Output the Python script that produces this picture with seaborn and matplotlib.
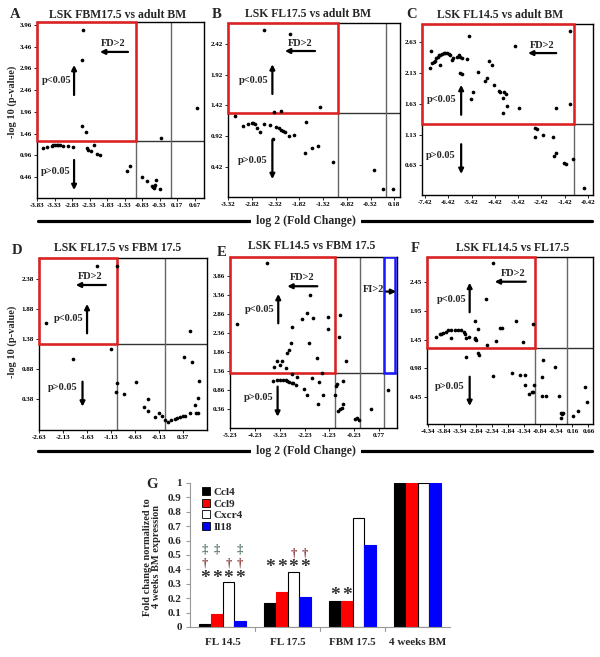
import numpy as np
import pandas as pd
import matplotlib
matplotlib.use('Agg')
import matplotlib.pyplot as plt
import seaborn as sns
from matplotlib.patches import Rectangle
from matplotlib.lines import Line2D

sns.set_theme(style='white')
plt.rcParams['font.family'] = ['Liberation Serif', 'DejaVu Serif']

# ---------------- data: volcano panels ----------------
A_x = [-2.51, -2.55, -2.55, -2.44, 0.75, -0.29, -3.65, -3.55, -3.41, -3.36, -3.32, -3.27, -3.22, -3.17,
       -3.08, -2.94, -2.79, -2.41, -2.36, -2.28, -2.21, -2.12, -2.02, -1.27, -1.17, -0.84, -0.70, -0.55,
       -0.52, -0.49, -0.46, -0.43, -0.49, -0.32]
A_y = [3.85, 3.16, 1.64, 1.51, 2.05, 1.36, 1.14, 1.16, 1.18, 1.19, 1.19, 1.19, 1.19, 1.19,
       1.18, 1.18, 1.16, 1.13, 1.09, 1.07, 1.19, 1.00, 0.97, 0.60, 0.72, 0.47, 0.38, 0.26,
       0.23, 0.24, 0.28, 0.39, 0.22, 0.18]

B_x = [-2.56, -2.02, -1.39, -2.36, -2.20, -3.18, -3.01, -2.89, -2.82, -2.79, -2.75, -2.70, -2.65, -2.57,
       -2.44, -2.37, -2.30, -2.25, -2.20, -2.16, -2.11, -2.04, -1.93, -1.67, -1.69, -1.56, -1.42, -1.12,
       -0.24, -0.06, 0.15]
B_y = [2.64, 2.58, 1.40, 1.32, 1.33, 1.24, 1.09, 1.11, 1.13, 1.13, 1.11, 1.05, 0.99, 1.12,
       1.10, 0.87, 1.07, 1.05, 1.02, 1.00, 0.98, 0.93, 0.94, 1.15, 0.64, 0.73, 0.76, 0.50,
       0.37, 0.06, 0.06]

C_x = [-7.22, -7.16, -7.10, -7.05, -7.01, -6.94, -6.88, -6.82, -6.77, -6.69, -6.62, -6.55, -6.48, -6.41,
       -6.34, -6.77, -6.27, -6.20, -6.05, -5.98, -5.91, -5.84, -5.62, -5.51, -5.91, -5.84, -5.44, -5.34,
       -5.13, -4.84, -4.74, -4.65, -4.55, -4.45, -4.22, -4.20, -4.08, -4.05, -4.01, -3.95, -3.88, -3.55,
       -3.37, -1.80, -1.17, -1.20, -2.70, -2.60, -2.70, -2.37, -1.94, -1.88, -1.81, -1.44, -1.38, -1.08,
       -0.59]
C_y = [2.22, 2.49, 2.30, 2.32, 2.33, 2.38, 2.40, 2.42, 2.43, 2.45, 2.46, 2.46, 2.46, 2.45,
       2.43, 2.27, 2.34, 2.38, 2.40, 2.43, 2.39, 2.38, 2.36, 2.73, 2.13, 2.12, 1.71, 1.83,
       2.15, 2.01, 2.05, 2.33, 2.27, 1.94, 1.84, 1.82, 1.49, 1.73, 1.83, 1.80, 1.60, 2.58,
       1.56, 1.56, 2.82, 1.63, 1.24, 1.22, 1.10, 1.13, 1.09, 0.79, 0.83, 0.67, 0.65, 0.73,
       0.26]

D_x = [-1.41, -1.00, -2.48, -1.92, -1.13, -1.00, -1.03, -0.86, -0.61, -0.44, -0.35, -0.36, -0.21, -0.12,
       -0.05, 0.01, 0.07, 0.12, 0.21, 0.26, 0.31, 0.37, 0.42, 0.52, 0.63, 0.65, 0.70, 0.71, 0.40, 0.56,
       0.52, 0.70]
D_y = [2.60, 2.59, 1.65, 1.04, 1.21, 0.65, 0.50, 0.46, 0.66, 0.24, 0.37, 0.17, 0.08, 0.15,
       0.10, 0.02, 0.00, 0.03, 0.04, 0.06, 0.07, 0.09, 0.10, 0.15, 0.28, 0.15, 0.15, 0.68, 1.08, 1.00,
       1.52, 0.39]

E_x = [-3.77, -4.98, -2.01, -2.15, -2.35, -1.88, -1.27, -1.27, -0.80, -0.83, -0.57, -2.75, -2.04, -2.79,
       -2.85, -2.93, -1.72, -3.47, -3.34, -3.23, -3.13, -2.98, -1.54,
       -3.50, -3.36, -3.23, -3.09, -2.98, -2.93, -2.85, -2.75, -2.69, -2.55, -2.75, -2.58, -2.26, -2.15,
       -1.94, -1.64, -1.68, -1.47, -1.00, -0.96, -0.93, -0.66, -0.87, -0.80, -0.73, -0.66, -0.18, -0.12,
       -0.02, 0.46, 1.16]
E_y = [4.19, 2.58, 3.35, 2.87, 2.72, 2.76, 2.77, 2.46, 2.83, 2.26, 1.63, 2.51, 2.10, 2.10,
       1.91, 1.84, 1.69, 1.47, 1.62, 1.52, 1.62, 1.43, 1.31,
       1.10, 1.12, 1.12, 1.12, 1.12, 1.10, 1.08, 1.05, 1.04, 1.21, 1.28, 0.99, 0.88, 0.73,
       1.17, 1.06, 0.48, 0.73, 0.73, 0.97, 1.01, 1.10, 0.31, 0.35, 0.38, 0.48, 0.09, 0.13,
       0.07, 0.35, 0.86]

F_x = [-2.30, -2.54, -2.86, -2.78, -2.08, -2.03, -1.60, -1.06, -1.39, -2.23, -2.50, -4.09, -3.96, -3.91,
       -3.86, -3.76, -3.71, -3.60, -3.50, -3.40, -3.29, -3.21, -3.17, -3.62, -3.14, -3.04, -2.86, -2.83,
       -2.88,
       -3.16, -2.76, -2.73, -2.30, -1.72, -1.46, -1.31, -1.31, -1.19, -1.10, -1.05, -1.03, -0.75, -0.79,
       -0.79, -0.65, -0.38, -0.26, -0.21, -0.18, -0.14, -0.15, 0.17, 0.34, 0.54, 0.60]
F_y = [2.78, 2.16, 1.77, 1.64, 1.66, 1.65, 1.78, 1.73, 1.41, 1.42, 1.35, 1.50, 1.54, 1.55,
       1.57, 1.59, 1.61, 1.62, 1.62, 1.62, 1.61, 1.58, 1.55, 1.48, 1.47, 1.49, 1.48, 1.45,
       1.46,
       1.14, 1.21, 1.19, 0.81, 0.86, 0.83, 0.84, 0.66, 0.51, 0.54, 0.54, 0.66, 1.10, 0.80,
       0.47, 0.47, 0.97, 0.47, 0.09, 0.18, 0.18, 0.15, 0.12, 0.20, 0.63, 0.36]

A_xticks = [-3.83, -3.33, -2.83, -2.33, -1.83, -1.33, -0.83, -0.33, 0.17, 0.67]
A_yticks = [0.46, 0.96, 1.46, 1.96, 2.46, 2.96, 3.46, 3.96]
B_xticks = [-3.32, -2.82, -2.32, -1.82, -1.32, -0.82, -0.32, 0.18]
B_yticks = [0.42, 0.92, 1.42, 1.92, 2.42]
C_xticks = [-7.42, -6.42, -5.42, -4.42, -3.42, -2.42, -1.42, -0.42]
C_yticks = [0.63, 1.13, 1.63, 2.13, 2.63]
D_xticks = [-2.63, -2.13, -1.63, -1.13, -0.63, -0.13, 0.37]
D_yticks = [0.38, 0.88, 1.38, 1.88, 2.38]
E_xticks = [-5.23, -4.23, -3.23, -2.23, -1.23, -0.23, 0.77]
E_yticks = [0.36, 0.86, 1.36, 1.86, 2.36, 2.86, 3.36, 3.86]
F_xticks = [-4.34, -3.84, -3.34, -2.84, -2.34, -1.84, -1.34, -0.84, -0.34, 0.16, 0.66]
F_yticks = [0.45, 0.95, 1.45, 1.95, 2.45]
F_yticklabels = ['0.45', '0.98', '1.45', '1.95', '2.45']

titles = ['LSK FBM17.5 vs adult BM', 'LSK FL17.5 vs adult BM', 'LSK FL14.5 vs adult BM',
          'LSK FL17.5 vs FBM 17.5', 'LSK FL14.5 vs FBM 17.5', 'LSK FL14.5 vs FL17.5']
letters = ['A', 'B', 'C', 'D', 'E', 'F']

# ---------------- data: bar panel G ----------------
groups = ['FL 14.5', 'FL 17.5', 'FBM 17.5', '4 weeks BM']
genes = ['Ccl4', 'Ccl9', 'Cxcr4', 'Il18']
ccl4 = [0.02, 0.17, 0.18, 1.00]
ccl9 = [0.09, 0.24, 0.18, 1.00]
cxcr4 = [0.31, 0.38, 0.76, 1.00]
il18 = [0.04, 0.21, 0.57, 1.00]
# significance marks: (group index, gene index, height)
star_marks = [(0, 0, 0.34), (0, 1, 0.34), (0, 2, 0.34), (0, 3, 0.34),
              (1, 0, 0.41), (1, 1, 0.41), (1, 2, 0.41), (1, 3, 0.41),
              (2, 0, 0.22), (2, 1, 0.22)]
dagger_marks = [(0, 0, 0.44), (0, 2, 0.44), (0, 3, 0.44), (1, 2, 0.51), (1, 3, 0.51)]
ddagger_marks = [(0, 0, 0.54), (0, 1, 0.54), (0, 3, 0.54)]

# ---------------- layout ----------------
W, H = 600, 657
fig = plt.figure(figsize=(W / 100, H / 100), dpi=100)
fig.patch.set_facecolor('white')


def px_axes(l, t, r, b):
    return fig.add_axes([l / W, 1 - b / H, (r - l) / W, (b - t) / H])


def fpt(x, y):
    return x / W, 1 - y / H


panel_data = [(A_x, A_y), (B_x, B_y), (C_x, C_y), (D_x, D_y), (E_x, E_y), (F_x, F_y)]
panel_ticks = [(A_xticks, A_yticks, None), (B_xticks, B_yticks, None), (C_xticks, C_yticks, None),
               (D_xticks, D_yticks, None), (E_xticks, E_yticks, None), (F_xticks, F_yticks, F_yticklabels)]
boxes = [(37, 22, 204, 198), (228, 23, 400, 197), (422, 24, 593, 195),
         (39, 258, 207, 430), (230, 257, 397, 428), (427, 257, 593, 424)]
xlims = [(-3.83, 0.94), (-3.32, 0.30), (-7.55, -0.20), (-2.63, 0.88), (-5.25, 1.51), (-4.36, 0.80)]
ylims = [(-0.02, 4.03), (-0.07, 2.76), (0.15, 2.93), (-0.14, 2.73), (-0.14, 4.35), (-0.02, 2.89)]
vlines = [[-1, 0], [-1, 0], [-1], [-1, 0], [-1, 0, 1], [-1, 0]]
title_pos = [(118, 15), (308, 14), (500, 15), (118, 248), (312, 246), (513, 248)]
letter_pos = [(15, 15), (217, 15), (412, 15), (17, 250), (222, 252), (415, 248)]
# annotation positions in axes fraction
ann = [
    dict(fd=(0.455, 0.875), fda=(0.545, 0.377, 0.83), pl=(0.117, 0.67), up=(0.222, 0.585, 0.756),
         pg=(0.114, 0.153), dn=(0.222, 0.216, 0.045)),
    dict(fd=(0.419, 0.883), fda=(0.506, 0.331, 0.839), pl=(0.147, 0.672), up=(0.258, 0.592, 0.763),
         pg=(0.141, 0.209), dn=(0.258, 0.328, 0.103)),
    dict(fd=(0.703, 0.873), fda=(0.785, 0.620, 0.830), pl=(0.117, 0.557), up=(0.229, 0.469, 0.644),
         pg=(0.107, 0.230), dn=(0.229, 0.297, 0.123)),
    dict(fd=(0.302, 0.895), fda=(0.398, 0.219, 0.843), pl=(0.179, 0.649), up=(0.286, 0.562, 0.733),
         pg=(0.143, 0.246), dn=(0.259, 0.281, 0.136)),
    dict(fd=(0.435, 0.879), fda=(0.523, 0.343, 0.829), pl=(0.176, 0.694), up=(0.289, 0.612, 0.784),
         pg=(0.170, 0.177), dn=(0.285, 0.242, 0.066)),
    dict(fd=(0.518, 0.902), fda=(0.595, 0.408, 0.852), pl=(0.147, 0.747), up=(0.257, 0.669, 0.846),
         pg=(0.137, 0.223), dn=(0.257, 0.283, 0.108)),
]

SIG = -np.log10(0.05)
bold = dict(fontweight='bold', family=['Liberation Serif', 'DejaVu Serif'])


def arrow(ax, x0, y0, x1, y1):
    ax.annotate('', xy=(x1, y1), xytext=(x0, y0), xycoords='axes fraction',
                arrowprops=dict(arrowstyle='-|>', lw=1.6, color='black', mutation_scale=7,
                                shrinkA=0, shrinkB=0), zorder=6)


for i in range(6):
    ax = px_axes(*boxes[i])
    xs, ys = panel_data[i]
    df = pd.DataFrame({'log2fc': xs, 'nlogp': ys})
    sns.scatterplot(data=df, x='log2fc', y='nlogp', ax=ax, color='black', s=7, linewidth=0, zorder=5)
    ax.set_xlim(*xlims[i])
    ax.set_ylim(*ylims[i])
    xt, yt, ytl = panel_ticks[i]
    ax.set_xticks(xt)
    ax.set_xticklabels([f'{v:.2f}' for v in xt])
    ax.set_yticks(yt)
    ax.set_yticklabels(ytl if ytl else [f'{v:.2f}' for v in yt])
    for lab in ax.get_xticklabels() + ax.get_yticklabels():
        lab.set_fontsize(5)
        lab.set_fontweight('bold')
    ax.tick_params(axis='both', which='major', length=2, width=0.6, pad=1.5, direction='out',
                   bottom=True, left=True, colors='black')
    ax.set_xlabel('')
    ax.set_ylabel('')
    for s in ax.spines.values():
        s.set_color('black')
        s.set_linewidth(1.0)
    ax.axhline(SIG, color='#333333', lw=1.0, zorder=2)
    for v in vlines[i]:
        ax.axvline(v, color='#666666', lw=1.0, zorder=2)
    x0, x1 = xlims[i]
    y0, y1 = ylims[i]
    ax.add_patch(Rectangle((x0, SIG), -1 - x0, y1 - SIG, fill=False, edgecolor='#e02020',
                           lw=1.8, zorder=3, clip_on=False))
    a = ann[i]
    ax.text(*a['fd'], 'FD>2', transform=ax.transAxes, ha='center', va='center', fontsize=7.5, **bold)
    arrow(ax, a['fda'][0], a['fda'][2], a['fda'][1], a['fda'][2])
    ax.text(*a['pl'], 'p<0.05', transform=ax.transAxes, ha='center', va='center', fontsize=7.5, **bold)
    arrow(ax, a['up'][0], a['up'][1], a['up'][0], a['up'][2])
    ax.text(*a['pg'], 'p>0.05', transform=ax.transAxes, ha='center', va='center', fontsize=7.5, **bold)
    arrow(ax, a['dn'][0], a['dn'][1], a['dn'][0], a['dn'][2])
    if i == 4:
        ax.add_patch(Rectangle((1.0, SIG), 0.42, y1 - SIG, fill=False, edgecolor='#1a1aff',
                               lw=1.8, zorder=3))
        ax.text(0.862, 0.811, 'FI>2', transform=ax.transAxes, ha='center', va='center',
                fontsize=7.5, **bold)
        arrow(ax, 0.935, 0.798, 0.995, 0.798)
    fig.text(*fpt(*title_pos[i]), titles[i], ha='center', va='center', fontsize=8.5, **bold)
    fig.text(*fpt(*letter_pos[i]), letters[i], ha='center', va='center', fontsize=10.5, **bold)

# y labels for volcano rows
fig.text(*fpt(12, 102), '-log 10 (p-value)', rotation=90, ha='center', va='center', fontsize=7.5, **bold)
fig.text(*fpt(12, 342), '-log 10 (p-value)', rotation=90, ha='center', va='center', fontsize=7.5, **bold)

# separator lines with x label
for yy in (221, 451):
    fig.add_artist(Line2D([38 / W, 592 / W], [1 - yy / H, 1 - yy / H], color='black', lw=2.3))
    fig.text(*fpt(306, yy), 'log 2 (Fold Change)', ha='center', va='center', fontsize=8.5,
             bbox=dict(facecolor='white', edgecolor='none', pad=4), **bold)

# ---------------- panel G ----------------
axg = px_axes(190, 483, 450, 627)
gdf = pd.DataFrame({
    'group': np.repeat(groups, len(genes)),
    'gene': genes * len(groups),
    'value': np.ravel(np.column_stack([ccl4, ccl9, cxcr4, il18])),
})
gene_colors = ['#000000', '#ff0000', '#ffffff', '#0000ff']
bw = 0.73
sns.barplot(data=gdf, x='group', y='value', hue='gene', order=groups, hue_order=genes,
            palette=gene_colors, width=bw, gap=0, edgecolor='black', linewidth=0.8,
            saturation=1, ax=axg)
for p in axg.patches:
    fc = p.get_facecolor()
    if fc[0] < 0.99 or fc[1] < 0.99:
        p.set_edgecolor(fc)
axg.set_ylim(0, 1)
axg.set_xlim(-0.5, 3.5)
axg.set_yticks(np.round(np.arange(0, 1.01, 0.1), 1))
axg.set_yticklabels(['0'] + [f'{v:.1f}' for v in np.arange(0.1, 0.95, 0.1)] + ['1'])
axg.set_xlabel('')
axg.set_ylabel('')
for lab in axg.get_xticklabels():
    lab.set_fontsize(8)
    lab.set_fontweight('bold')
for lab in axg.get_yticklabels():
    lab.set_fontsize(8)
    lab.set_fontweight('bold')
axg.tick_params(axis='y', length=3, width=0.8, color='#999999', pad=3, left=True)
axg.tick_params(axis='x', length=0, pad=8)
for b in [0.5, 1.5, 2.5]:
    axg.plot([b, b], [0, -0.03], color='#999999', lw=0.8, clip_on=False, transform=axg.transData)
for side in ['top', 'right']:
    axg.spines[side].set_visible(False)
for side in ['left', 'bottom']:
    axg.spines[side].set_color('#999999')
    axg.spines[side].set_linewidth(0.8)

leg = axg.legend(loc='upper left', bbox_to_anchor=(0.03, 1.0), frameon=False, handlelength=0.7,
                 handleheight=0.7, labelspacing=0.15, handletextpad=0.3, borderaxespad=0,
                 prop=dict(family='Liberation Serif', weight='bold', size=8))
for h in leg.legend_handles:
    h.set_edgecolor('black')
    h.set_linewidth(0.6)


def bar_x(gi, ji):
    return gi + (ji - 1.5) * bw / len(genes)


for gi, ji, yv in star_marks:
    axg.text(bar_x(gi, ji), yv, '*', ha='center', va='center', fontsize=14, color='#333333', **bold)
for gi, ji, yv in dagger_marks:
    axg.text(bar_x(gi, ji), yv, '\u2020', ha='center', va='center', fontsize=9, color='#8b3a3a', **bold)
for gi, ji, yv in ddagger_marks:
    axg.text(bar_x(gi, ji), yv, '\u2021', ha='center', va='center', fontsize=9, color='#5a7a6a', **bold)

fig.text(*fpt(152, 484), 'G', ha='center', va='center', fontsize=10.5, **bold)
fig.text(*fpt(152, 557), 'Fold change normalized to\n4 weeks BM expression', rotation=90,
         ha='center', va='center', fontsize=7.5, linespacing=1.1, **bold)

fig.savefig('out.png', dpi=100)
